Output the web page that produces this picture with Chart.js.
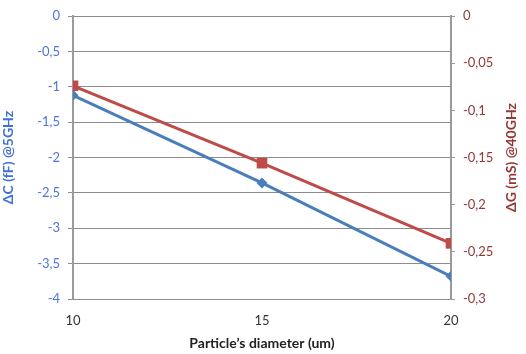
<!DOCTYPE html>
<html>
<head>
<meta charset="utf-8">
<script src="https://cdn.jsdelivr.net/npm/chart.js@4/dist/chart.umd.min.js"></script>
<style>
html,body{margin:0;padding:0;background:#fff;}
#wrap{width:526px;height:354px;position:relative;}
</style>
</head>
<body>
<div id="wrap"><canvas id="c" width="526" height="354"></canvas></div>
<script>
const diameters = [10, 15, 20];
const deltaC = [-1.12, -2.36, -3.68];
const deltaG = [-0.074, -0.156, -0.241];
const xTicks = [10, 15, 20];
const rightTitle = 'ΔG (mS) @40GHz';

const fmt = (v, d) => String(Number(v.toFixed(d))).replace('.', ',');
const family = 'Lato, "Open Sans", sans-serif';
const font = {family: family, size: 13};

const rightTitlePlugin = {
  id: 'rightTitle',
  afterDraw(chart) {
    const ctx = chart.ctx;
    const a = chart.chartArea;
    ctx.save();
    ctx.translate(511, (a.top + a.bottom) / 2);
    ctx.rotate(-Math.PI / 2);
    ctx.font = 'bold 14px ' + family;
    ctx.fillStyle = '#953735';
    ctx.textAlign = 'center';
    ctx.textBaseline = 'middle';
    ctx.fillText(rightTitle, 0, 0);
    ctx.restore();
  }
};

new Chart(document.getElementById('c'), {
  type: 'line',
  data: {
    datasets: [
      {
        label: 'ΔG',
        data: diameters.map((x, i) => ({x, y: deltaG[i]})),
        yAxisID: 'y1',
        borderColor: '#BE4B48',
        backgroundColor: '#BE4B48',
        borderWidth: 3,
        pointStyle: 'rect',
        pointRadius: 7.5,
        pointBorderWidth: 0,
        order: 0
      },
      {
        label: 'ΔC',
        data: diameters.map((x, i) => ({x, y: deltaC[i]})),
        yAxisID: 'y',
        borderColor: '#4A7EBB',
        backgroundColor: '#4A7EBB',
        borderWidth: 3,
        pointStyle: 'rectRot',
        pointRadius: 5.5,
        pointBorderWidth: 0,
        order: 1
      }
    ]
  },
  options: {
    responsive: false,
    animation: false,
    layout: {padding: {top: 16, bottom: 0, left: 0, right: 0}},
    plugins: {legend: {display: false}, tooltip: {enabled: false}},
    scales: {
      x: {
        type: 'linear',
        min: 10, max: 20,
        afterBuildTicks: s => { s.ticks = xTicks.map(v => ({value: v})); },
        grid: {display: false},
        border: {display: false},
        ticks: {color: '#333', font: font, padding: 6, maxRotation: 0},
        title: {display: true, text: 'Particle’s diameter (um)', color: '#222',
                font: {family: family, size: 14, weight: 'bold'}, padding: {top: 1, bottom: 2}},
        afterFit: s => { s.height = 55; }
      },
      y: {
        position: 'left',
        min: -4, max: 0,
        ticks: {stepSize: 0.5, color: '#4F74DA', font: font, padding: 8, callback: v => fmt(v, 1)},
        grid: {color: '#8C8C8C', lineWidth: 1, tickLength: 5},
        border: {display: true, color: '#9A9A9A', width: 2},
        title: {display: true, text: 'ΔC (fF) @5GHz', color: '#3F6FD8',
                font: {family: family, size: 14, weight: 'bold'}, padding: {top: 0, bottom: 2}},
        afterFit: s => { s.width = 73; }
      },
      y1: {
        position: 'right',
        min: -0.3, max: 0,
        ticks: {stepSize: 0.05, color: '#8E3A38', font: font, padding: 8, callback: v => fmt(v, 2)},
        grid: {drawOnChartArea: false, color: '#9A9A9A', tickLength: 4},
        border: {display: true, color: '#9A9A9A', width: 2},
        title: {display: false},
        afterFit: s => { s.width = 75; }
      }
    }
  },
  plugins: [rightTitlePlugin]
});
</script>
</body>
</html>
